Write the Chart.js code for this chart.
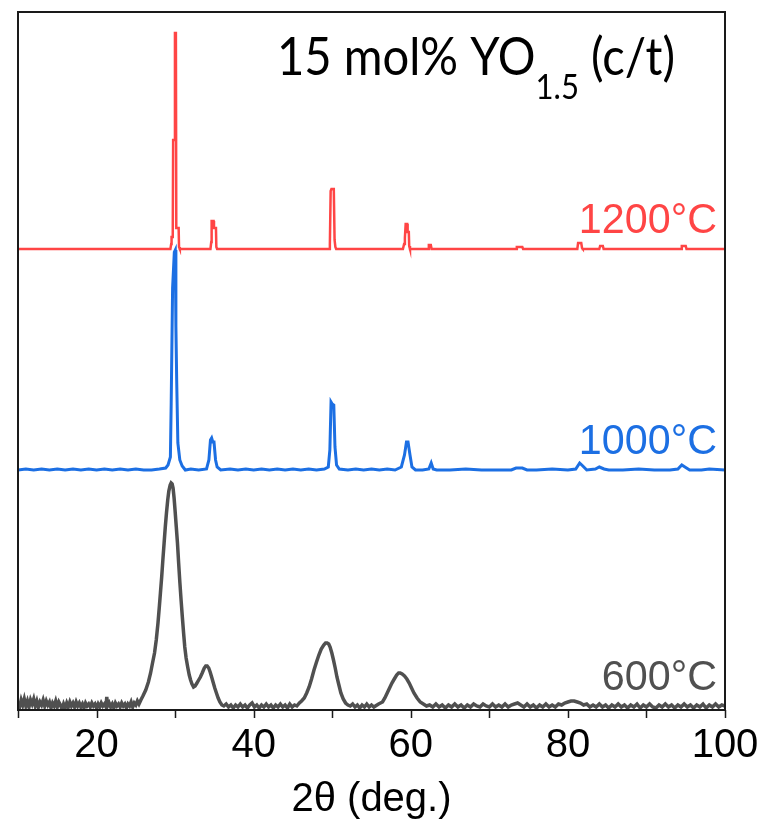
<!DOCTYPE html>
<html>
<head>
<meta charset="utf-8">
<script src="https://cdn.jsdelivr.net/npm/chart.js@4/dist/chart.umd.min.js"></script>
<style>
  html, body { margin: 0; padding: 0; background: #fff; }
  canvas { display: block; }
</style>
</head>
<body>
<canvas id="xrdChart" width="766" height="828"></canvas>
<script>
// 2θ axis
const angleMin = 10;
const angleMax = 100;
const angleTicks = [20, 40, 60, 80, 100];

// annealing temperatures, top to bottom
const sampleLabels = ['1200°C', '1000°C', '600°C'];

// XRD patterns as [2θ, stacked intensity (a.u.)]
const pattern1200 = [
  [10,461],[29.4,461],[29.5,466],[29.55,473],[29.7,473],[29.75,570],[29.95,570],[29.98,677],
  [30.1,677],[30.15,482],[30.45,482],[30.5,463],[30.6,461],[34.5,461],[34.6,468],[34.65,489],
  [34.9,489],[34.95,482],[35.2,482],[35.25,463],[35.35,461],[49.6,461],[49.7,465],[49.8,519],
  [49.9,521],[50.2,521],[50.3,470],[50.4,463],[50.5,461],[59.0,461],[59.15,466],[59.25,472],
  [59.35,486],[59.55,486],[59.6,478],[59.75,478],[59.8,464],[59.9,461],[62.2,461],[62.3,465],
  [62.55,465],[62.65,461],[73.4,461],[73.5,463],[74.2,463],[74.3,461],[81.2,461],[81.3,467],
  [81.7,467],[81.8,462],[81.9,461],[84.0,461],[84.1,464],[84.45,464],[84.55,461],[94.4,461],
  [94.5,464],[95.0,464],[95.1,461],[100,461]
];

const pattern1000 = [
  [10,240],[11,241],[12,240],[13,241],[14,240],[15,241],[16,240],[17,241],[18,240],[19,241],
  [20,240],[21,241],[22,240],[23,241],[24,240],[25,241],[26,240],[27,240],[28,241],[28.8,242],
  [29.1,245],[29.4,253],[29.5,306],[29.68,422],[29.9,458],[30.02,460],[30.1,384],[30.2,330],
  [30.35,267],[30.6,250],[30.9,244],[31.3,240],[32,241],[33,240],[34.0,241],[34.3,250],
  [34.5,270],[34.65,272],[34.8,268],[34.95,268],[35.15,250],[35.35,243],[35.8,240],[37,241],
  [38,240],[39,241],[40,240],[41,241],[42,240],[43,241],[44,240],[45,241],[46,240],[47,241],
  [48,240],[49,241],[49.5,243],[49.7,260],[49.85,308],[50.0,306],[50.2,305],[50.35,263],
  [50.55,245],[50.9,241],[52,240],[53,241],[54,240],[55,241],[56,240],[57,241],[58,240],
  [58.8,243],[59.2,255],[59.45,268],[59.65,268],[59.9,255],[60.15,243],[60.6,240],[61.5,240],
  [62.3,241],[62.6,247],[62.85,241],[63.3,240],[65,240],[67,241],[69,240],[71,240],[72.8,240],
  [73.4,242],[74.2,242],[74.8,240],[76,240],[78,241],[80,240],[81.0,241],[81.5,247],[81.9,244],
  [82.4,240],[83.5,241],[84.0,243],[84.6,241],[85.2,240],[87,240],[89,241],[91,240],[93,240],
  [94.0,241],[94.5,245],[94.9,243],[95.5,240],[97,240],[98,241],[100,240]
];

const pattern600 = [
  [10,8],[10.2,3],[10.4,10],[10.6,5],[10.8,11],[11.0,4],[11.2,9],[11.4,3],[11.6,10],[11.8,6],
  [12.0,11],[12.2,4],[12.4,9],[12.6,3],[12.8,8],[13.0,5],[13.2,10],[13.4,4],[13.6,9],[13.8,5],
  [14.0,8],[14.2,2],[14.4,7],[14.6,4],[14.8,9],[15.0,3],[15.2,8],[15.4,5],[15.6,1],[15.8,6],
  [16.0,2],[16.2,7],[16.4,3],[16.6,8],[16.8,4],[17.0,7],[17.2,3],[17.4,8],[17.6,4],[17.8,7],
  [18.0,3],[18.2,6],[18.4,2],[18.6,7],[18.8,4],[19.0,6],[19.2,3],[19.4,7],[19.6,4],[19.8,6],
  [20.0,2],[20.2,6],[20.4,3],[20.6,7],[20.8,4],[21.0,6],[21.2,3],[21.3,13],[21.4,4],[21.6,7],
  [21.8,3],[22.0,6],[22.2,2],[22.4,7],[22.6,4],[22.8,6],[23.0,3],[23.2,7],[23.4,4],[23.6,6],
  [23.8,2],[24.0,6],[24.2,4],[24.4,8],[24.6,3],[24.8,7],[25.0,5],[25.2,9],[25.4,6],
  [25.64,10],[25.9,14],[26.26,20],[26.6,28],[26.88,37],[27.1,46],[27.38,57],[27.6,70],
  [27.82,87],[28.0,104],[28.13,117],[28.3,134],[28.44,150],[28.6,167],[28.75,183],[28.9,197],
  [29.06,210],[29.2,219],[29.37,225],[29.49,227],[29.62,226],[29.74,222],[29.87,212],
  [29.99,200],[30.15,183],[30.3,167],[30.45,147],[30.61,127],[30.76,110],[30.92,93],
  [31.08,77],[31.23,63],[31.4,52],[31.6,43],[31.8,35],[31.97,30],[32.15,26],[32.35,23],
  [32.55,24],[32.78,27],[33.0,30],[33.22,33],[33.45,37],[33.71,42],[33.9,44],[34.08,44],
  [34.28,42],[34.46,38],[34.65,33],[34.83,28],[35.05,22],[35.26,17],[35.48,12],[35.7,8],
  [35.95,5],[36.2,4],
  [36.5,6],[36.8,3],[37.1,5],[37.4,2],[37.7,5],[38.0,3],[38.3,6],[38.6,3],[38.9,5],[39.2,2],
  [39.5,5],[39.8,7],[40.1,3],[40.4,5],[40.7,2],[41.0,5],[41.3,3],[41.6,6],[41.9,3],[42.2,5],
  [42.5,2],[42.8,5],[43.1,3],[43.4,6],[43.7,3],[44.0,5],[44.3,2],[44.6,6],[44.9,3],[45.2,5],
  [45.5,4],
  [45.82,7],[46.1,9],[46.44,12],[46.75,17],[47.06,23],[47.37,31],[47.68,40],[48.0,48],
  [48.3,55],[48.6,61],[48.92,65],[49.15,67],[49.35,67],[49.55,66],[49.73,63],[49.95,57],
  [50.16,50],[50.38,42],[50.6,33],[50.85,25],[51.1,17],[51.4,11],[51.7,7],[52.0,5],[52.3,4],
  [52.6,6],[52.9,3],[53.2,5],[53.5,2],[53.8,5],[54.1,3],[54.4,6],[54.7,3],[55.0,5],[55.3,3],
  [55.9,6],[56.4,8],[56.7,12],[57.0,17],[57.3,22],[57.6,27],[57.9,31],[58.2,35],[58.45,37],
  [58.65,37],[58.9,36],[59.2,34],[59.5,31],[59.8,27],[60.1,22],[60.4,17],[60.8,12],[61.2,8],
  [61.6,6],[62.0,4],
  [62.4,5],[62.8,3],[63.2,6],[63.6,3],[64,5],[64.4,2],[64.8,5],[65.2,3],[65.6,6],[66,3],
  [66.4,5],[66.8,2],[67.2,5],[67.6,3],[68,6],[68.4,4],[68.8,3],[69.2,6],[69.6,4],[70,3],
  [70.4,6],[70.8,3],[71.2,5],[71.6,3],[72,6],[72.4,3],[72.8,5],[73.2,6],[73.6,7],[74,5],
  [74.4,3],[74.8,6],[75.2,3],[75.6,5],[76,2],[76.4,5],[76.8,3],[77.2,6],[77.6,3],[78,5],
  [78.4,3],[78.8,6],[79.2,5],[79.6,7],[80,8],[80.4,9],[80.8,9],[81.2,8],[81.6,7],[82,5],
  [82.4,6],[82.8,3],[83.2,5],[83.6,3],[84,6],[84.4,3],[84.8,5],[85.2,2],[85.6,5],[86,3],
  [86.4,6],[86.8,3],[87.2,5],[87.6,2],[88,5],[88.4,3],[88.8,6],[89.2,2],[89.6,5],[90,3],
  [90.4,6],[90.8,3],[91.2,2],[91.6,5],[92,3],[92.4,6],[92.8,3],[93.2,5],[93.6,2],[94,5],
  [94.4,3],[94.8,6],[95.2,3],[95.6,5],[96,2],[96.4,5],[96.8,3],[97.2,6],[97.6,2],[98,5],
  [98.4,3],[98.8,6],[99.2,3],[99.6,5],[100,4]
];

const lineColors = ['#ff4545', '#1c6fe3', '#505050'];
const lineWidths = [2.5, 3, 3.5];

const axisFont = '"Liberation Sans", Arial, sans-serif';

// frame, tick marks, temperature labels and composition title
const decorations = {
  id: 'decorations',
  afterDatasetsDraw(chart) {
    const { ctx, chartArea: a, scales: { x, y } } = chart;
    ctx.save();

    ctx.strokeStyle = '#1a1a1a';
    ctx.lineWidth = 2;
    ctx.strokeRect(a.left, a.top, a.right - a.left, a.bottom - a.top);

    // outward tick marks every 10 degrees
    ctx.lineWidth = 1.5;
    ctx.beginPath();
    x.ticks.forEach(t => {
      const px = Math.round(x.getPixelForValue(t.value)) + 0.5;
      ctx.moveTo(px, a.bottom);
      ctx.lineTo(px, a.bottom + 8);
    });
    ctx.stroke();

    // temperature labels sit just above the right end of each trace
    ctx.font = '43px ' + axisFont;
    ctx.textAlign = 'right';
    ctx.textBaseline = 'alphabetic';
    chart.data.datasets.forEach(ds => {
      const last = ds.data[ds.data.length - 1];
      ctx.fillStyle = ds.borderColor;
      ctx.save();
      ctx.translate(a.right - 8, y.getPixelForValue(last[1]) - 16);
      ctx.scale(0.96, 1);
      ctx.fillText(ds.label, 0, 0);
      ctx.restore();
    });

    // 15 mol% YO1.5 (c/t), subscript drawn smaller and lowered
    const mainFont = '53px Lato, "Noto Sans", sans-serif';
    const subFont = '35px Lato, "Noto Sans", sans-serif';
    const parts = [
      { text: '15 mol% YO', font: mainFont, dy: 0 },
      { text: '1.5', font: subFont, dy: 24 },
      { text: ' (c/t)', font: mainFont, dy: 0 }
    ];
    let total = 0;
    parts.forEach(p => { ctx.font = p.font; p.w = ctx.measureText(p.text).width; total += p.w; });
    const sx = 398 / total;
    ctx.translate(a.left + 259, a.top + 63);
    ctx.scale(sx, 1);
    ctx.textAlign = 'left';
    ctx.fillStyle = '#000';
    let cx = 0;
    parts.forEach(p => {
      ctx.font = p.font;
      ctx.fillText(p.text, cx, p.dy);
      cx += p.w;
    });
    ctx.restore();
  }
};

const patterns = [pattern1200, pattern1000, pattern600];

const xrdChart = new Chart(document.getElementById('xrdChart').getContext('2d'), {
  type: 'line',
  data: {
    datasets: patterns.map((p, i) => ({
      label: sampleLabels[i],
      data: p,
      borderColor: lineColors[i],
      borderWidth: lineWidths[i],
      pointRadius: 0,
      tension: 0,
      fill: false
    }))
  },
  options: {
    responsive: false,
    animation: false,
    layout: { padding: { left: 18, right: 41, top: 12, bottom: 0 } },
    plugins: {
      legend: { display: false },
      tooltip: { enabled: false }
    },
    scales: {
      x: {
        type: 'linear',
        min: angleMin,
        max: angleMax,
        ticks: {
          stepSize: 10,
          autoSkip: false,
          maxRotation: 0,
          padding: 12,
          color: '#000',
          font: { family: axisFont, size: 40 },
          callback: v => angleTicks.includes(v) ? String(v) : ''
        },
        grid: { display: false, drawTicks: false },
        border: { display: true, color: '#1a1a1a', width: 2 },
        title: {
          display: true,
          text: '2θ (deg.)',
          color: '#000',
          font: { family: axisFont, size: 40 },
          padding: { top: 0, bottom: 4 }
        },
        // fixed axis band; the "100" label may hang past the frame
        afterFit(scale) {
          scale.height = 118;
          scale.paddingLeft = 0;
          scale.paddingRight = 0;
        }
      },
      y: { display: false, min: 0, max: 698 }
    }
  },
  plugins: [decorations]
});
</script>
</body>
</html>
